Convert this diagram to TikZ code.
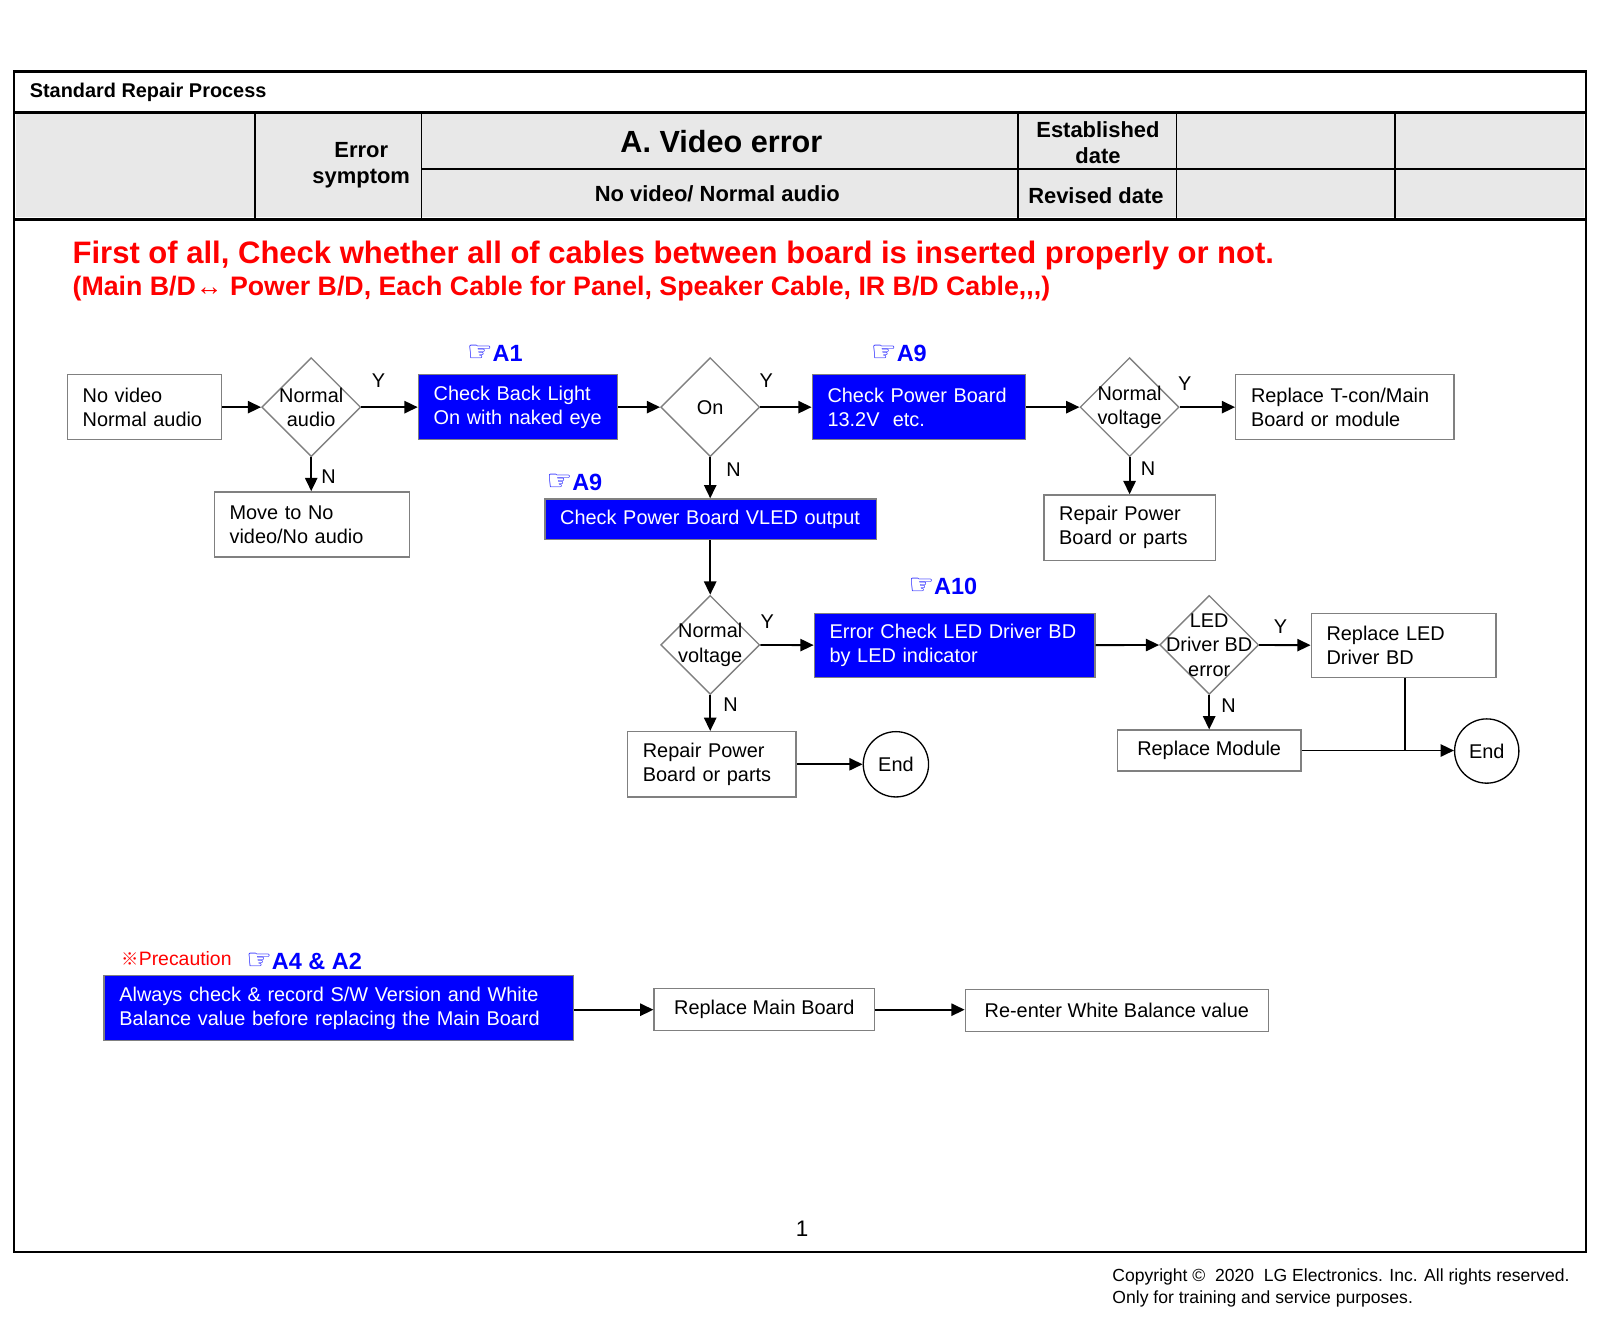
\documentclass[tikz,border=0pt]{standalone}
\usepackage{fontspec}
\setmainfont{Liberation Sans}
\newfontfamily\symfont{DejaVu Sans}
\newfontfamily\cjkfont{Noto Sans CJK SC}
\usetikzlibrary{shapes.geometric,arrows.meta}
\newcommand\fsz[2]{\fontsize{#1}{#2}\selectfont}
\definecolor{bordergray}{RGB}{128,128,128}
\definecolor{hdrgray}{RGB}{232,232,232}
\definecolor{pblue}{RGB}{0,0,255}
\definecolor{pred}{RGB}{255,0,0}
\newcommand\hand{{\symfont\fsz{28}{28}\char"261E}}
\begin{document}
\begin{tikzpicture}[x=1pt,y=-1pt,
  frm/.style={line width=2.2pt},
  hdrline/.style={line width=2.8pt},
  cell/.style={line width=1.8pt},
  htext/.style={font=\fsz{21.5}{25}\bfseries, align=center, inner sep=0pt},
  wbox/.style={draw=bordergray, line width=1.3pt, fill=white, inner xsep=15pt, inner ysep=0pt, align=left, font=\fsz{19.5}{24}},
  cbox/.style={draw=bordergray, line width=1.3pt, fill=white, inner sep=0pt, align=center, font=\fsz{19.5}{24}},
  bbox/.style={wbox, fill=pblue, text=white},
  dia/.style={diamond, draw=bordergray, line width=1.3pt, minimum width=97pt, minimum height=97pt, inner sep=0pt},
  dtext/.style={font=\fsz{19.5}{24}, align=center, inner sep=0pt},
  endc/.style={circle, draw=black, line width=1.3pt, minimum size=63pt, inner sep=0pt, font=\fsz{19.5}{24}},
  arr/.style={-{Triangle[length=13pt,width=12pt]}, line width=1.8pt},
  plain/.style={line width=1.8pt},
  yn/.style={font=\fsz{19.5}{24}, inner sep=0pt},
  refl/.style={text=pblue, font=\fsz{23}{26}\bfseries, inner sep=0pt}
]
\useasboundingbox (0,0) rectangle (1568,1299);
\fill[white] (0,0) rectangle (1568,1299);

% header table
\fill[hdrgray] (16,112) rectangle (1552,213);
\draw[frm] (14,70) rectangle (1554,1227);
\draw[hdrline] (14,110) -- (1554,110);
\draw[hdrline] (14,215) -- (1554,215);
\draw[cell] (250,110) -- (250,215);
\draw[cell] (413,110) -- (413,215);
\draw[cell] (998,110) -- (998,215);
\draw[cell] (1153,110) -- (1153,215);
\draw[cell] (1367,110) -- (1367,215);
\draw[cell] (413,166) -- (1554,166);

\node[anchor=base west, inner sep=0pt, font=\fsz{19.5}{22}\bfseries] (srp) at (29,96) {Standard Repair Process};
\node[htext] (es) at (354,162) {Error\\symptom};
\node[htext, font=\fsz{30}{32}\bfseries, anchor=base] (ve) at (707,149) {A. Video error};
\node[htext, anchor=base] (nvna) at (703,197) {No video/ Normal audio};
\node[htext] (estd) at (1076,140) {Established\\date};
\node[htext, anchor=base] (rd) at (1074,199) {Revised date};

% red notice
\node[anchor=base west, inner sep=0pt, text=pred, font=\fsz{30.4}{32}\bfseries] (red1) at (71,258) {First of all, Check whether all of cables between board is inserted properly or not.};
\node[anchor=base west, inner sep=0pt, text=pred, font=\fsz{26.2}{28}\bfseries] (red2) at (71,290) {(Main B/D↔ Power B/D, Each Cable for Panel, Speaker Cable, IR B/D Cable,{},{},)};

% row 1
\node[wbox, text width=121pt, minimum height=64pt] (b1) at (141.5,399) {No video\\Normal audio};
\node[dia, label={[dtext]center:Normal\\audio}] (d1) at (305,399) {};
\node[bbox, text width=165pt, minimum height=64pt] (b2) at (507.5,399) {Check Back Light\\On with naked eye};
\node[dia, label={[dtext]center:On}] (d2) at (696,399) {};
\node[bbox, text width=179pt, minimum height=64pt] (b3) at (900.5,399) {Check Power Board\\13.2V\ \ etc.};
\node[dia, label={[dtext]center:Normal\\voltage}] (d3) at (1107,399) {};
\node[wbox, text width=184pt, minimum height=64pt] (b4) at (1318,399) {Replace T-con/Main\\Board or module};
\node[wbox, text width=138pt, minimum height=64pt] (b5) at (1107,517) {Repair Power\\Board or parts};
\node[wbox, text width=161pt, minimum height=64pt] (b6) at (305.5,514) {Move to No\\video/No audio};
\node[bbox, text width=295pt, minimum height=40pt] (b7) at (696.5,509) {Check Power Board VLED output};

% row 2
\node[dia, label={[dtext]center:Normal\\voltage}] (d4) at (696,632) {};
\node[bbox, text width=245pt, minimum height=63pt] (b8) at (935.5,632.5) {Error Check LED Driver BD\\by LED indicator};
\node[dia, label={[dtext]center:LED\\Driver BD\\error}] (d5) at (1185,632) {};
\node[wbox, text width=151pt, minimum height=63pt] (b9) at (1375.5,632.5) {Replace LED\\Driver BD};
\node[cbox, minimum width=180pt, minimum height=40pt] (b10) at (1185,735.5) {Replace Module};
\node[endc] (e2) at (1457,736) {End};
\node[wbox, text width=135pt, minimum height=64pt] (b11) at (697.5,749) {Repair Power\\Board or parts};
\node[endc, minimum size=64pt] (e1) at (878,749) {End};

% bottom
\node[bbox, text width=430pt, minimum height=64pt] (b12) at (332,988) {Always check \& record S/W Version and White\\Balance value before replacing the Main Board};
\node[cbox, minimum width=216pt, minimum height=41pt] (b13) at (749,989.5) {Replace Main Board};
\node[cbox, minimum width=297pt, minimum height=41pt] (b14) at (1094.5,990.5) {Re-enter White Balance value};

% reference labels
\node[refl] (r1) at (485,346) {\hand A1};
\node[refl] (r2) at (881,346) {\hand A9};
\node[refl] (r3) at (563,473) {\hand A9};
\node[refl] (r4) at (924,575) {\hand A10};
\node[refl] (r5) at (298,942) {\hand A4 \& A2};
\node[inner sep=0pt, text=pred, font=\fsz{19}{22}] (prec) at (173,939) {{\cjkfont\fsz{17}{20}※}Precaution};

% Y / N labels
\node[yn] (y1) at (371,373) {Y};
\node[yn] (y2) at (751,373) {Y};
\node[yn] (y3) at (1161,376) {Y};
\node[yn] (y4) at (752,609) {Y};
\node[yn] (y5) at (1255,614) {Y};
\node[yn] (n1) at (322,467) {N};
\node[yn] (n2) at (719,460) {N};
\node[yn] (n3) at (1125,459) {N};
\node[yn] (n4) at (716,691) {N};
\node[yn] (n5) at (1204,692) {N};

% connectors
\draw[arr] (b1) -- (d1);
\draw[arr] (d1) -- (b2);
\draw[arr] (b2) -- (d2);
\draw[arr] (d2) -- (b3);
\draw[arr] (b3) -- (d3);
\draw[arr] (d3) -- (b4);
\draw[arr] (d3.south) -- (d3.south |- b5.north);
\draw[arr] (d1.south) -- (d1.south |- b6.north);
\draw[arr] (d2.south) -- (d2.south |- b7.north);
\draw[arr] (b7.south -| d4.north) -- (d4.north);
\draw[arr] (d4) -- (b8);
\draw[arr] (b8) -- (d5);
\draw[arr] (d5) -- (b9);
\draw[arr] (d5.south) -- (d5.south |- b10.north);
\draw[arr] (d4.south) -- (d4.south |- b11.north);
\draw[arr] (b11) -- (e1);
\draw[arr] (b10.east) -- (b10.east -| e2.west);
\draw[plain] ([xshift=1.5pt]b9.south) -- ([xshift=1.5pt]b9.south |- e2.west);
\draw[arr] (b12.east |- b13.west) -- (b13.west);
\draw[arr] (b13.east) -- (b13.east -| b14.west);

% page number and copyright
\node[anchor=base, inner sep=0pt, font=\fsz{22}{24}] (pg) at (786,1212) {1};
\node[anchor=base west, inner sep=0pt, font=\fsz{17.2}{20}] (cr1) at (1090,1256) {Copyright ©\ \ 2020\ \ LG Electronics. Inc. All rights reserved.};
\node[anchor=base west, inner sep=0pt, font=\fsz{17.2}{20}] (cr2) at (1090,1277) {Only for training and service purposes.};
\end{tikzpicture}
\end{document}
